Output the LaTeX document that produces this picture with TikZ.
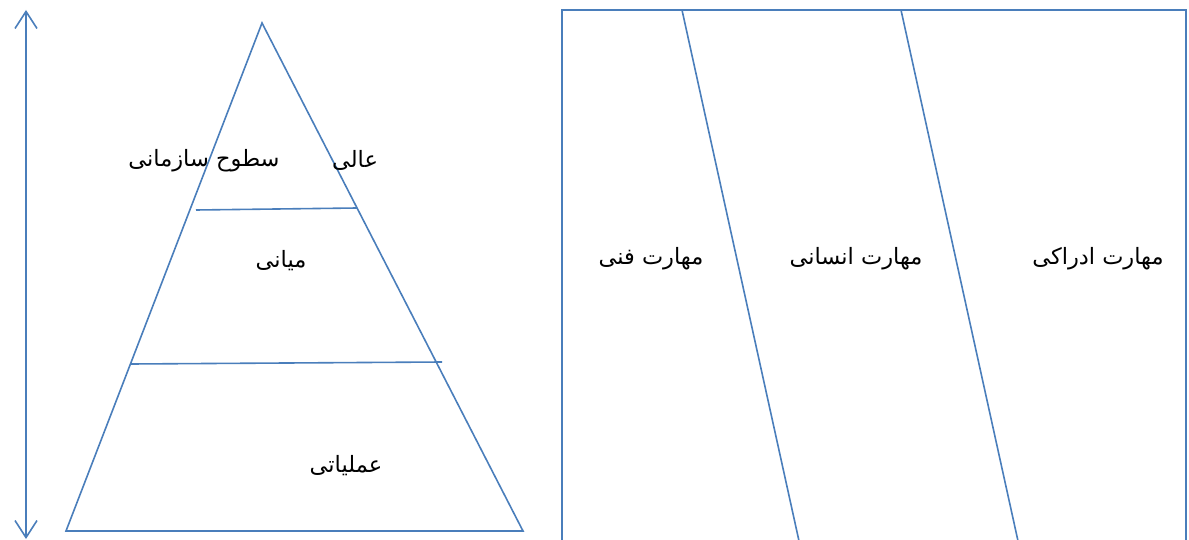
\documentclass[tikz,border=0pt]{standalone}
\usepackage{fontspec}
\newfontfamily\arabicfont[Script=Arabic]{DejaVu Sans}
\TeXXeTstate=1
\usetikzlibrary{arrows.meta}
\definecolor{lineblue}{HTML}{4A7EBB}
\tikzset{
  ln/.style={draw=lineblue, line width=1.6pt},
  lbl/.style={font=\arabicfont\fontsize{22.5}{26}\selectfont, inner sep=0pt, text=black},
}
\begin{document}
\begin{tikzpicture}[x=1pt,y=-1pt]
\useasboundingbox (0,0) rectangle (1189,540);
% vertical double arrow
\coordinate (at) at (26,10);
\coordinate (ab) at (26,539);
\draw[ln, {Straight Barb[length=17pt,width=22pt,line width=1.6pt]}-{Straight Barb[length=17pt,width=22pt,line width=1.6pt]}] (at) -- (ab);
% pyramid
\coordinate (apex) at (262,23);
\coordinate (bl) at (66,531);
\coordinate (br) at (523,531);
\draw[ln, line join=miter] (apex) -- (bl) -- (br) -- cycle;
\coordinate (l1a) at (196,210);
\coordinate (l1b) at (357,208);
\coordinate (l2a) at (131,364);
\coordinate (l2b) at (442,362);
\draw[ln] (l1a) -- (l1b);
\draw[ln] (l2a) -- (l2b);
% pyramid labels
\node[lbl] (sath) at (204,161) {\beginR سطوح سازمانی\endR};
\node[lbl] (ali) at (355,160) {\beginR عالی\endR};
\node[lbl] (miani) at (281,261) {\beginR میانی\endR};
\node[lbl] (amal) at (346,466) {\beginR عملیاتی\endR};
% skills panel
\coordinate (pbl) at (562,541);
\coordinate (ptl) at (562,10);
\coordinate (ptr) at (1186,10);
\coordinate (pbr) at (1186,541);
\draw[ln] (pbl) -- (ptl) -- (ptr) -- (pbr);
\coordinate (s1t) at (682,10);
\coordinate (s1b) at (799,541);
\coordinate (s2t) at (901,10);
\coordinate (s2b) at (1018,541);
\draw[ln] (s1t) -- (s1b);
\draw[ln] (s2t) -- (s2b);
\node[lbl] (fani) at (651,259) {\beginR مهارت فنی\endR};
\node[lbl] (ensani) at (856,259) {\beginR مهارت انسانی\endR};
\node[lbl] (edraki) at (1098,259) {\beginR مهارت ادراکی\endR};
\end{tikzpicture}
\end{document}
